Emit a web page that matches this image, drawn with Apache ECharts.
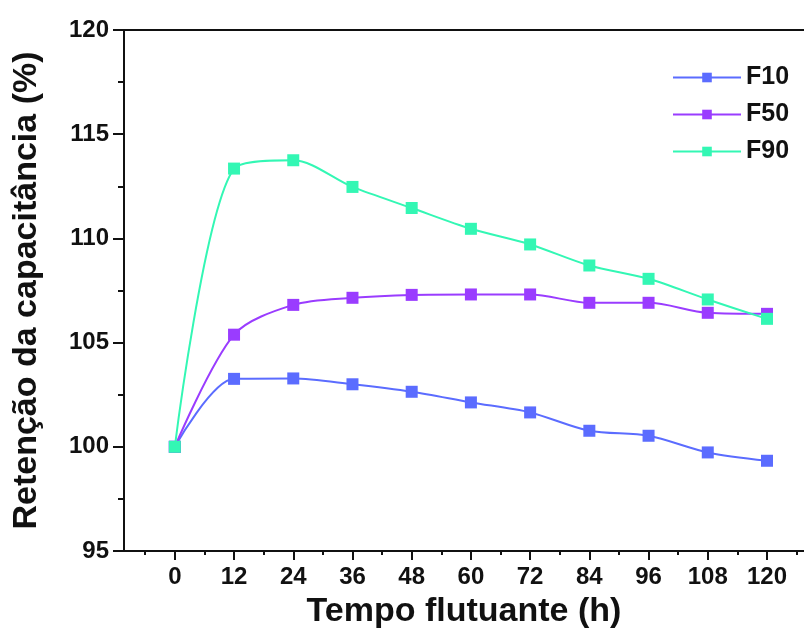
<!DOCTYPE html>
<html>
<head>
<meta charset="utf-8">
<script src="https://cdn.jsdelivr.net/npm/echarts@6/dist/echarts.min.js"></script>
<style>
html,body{margin:0;padding:0;background:#fff;}
#chart{width:804px;height:639px;}
</style>
</head>
<body>
<div id="chart"></div>
<script>
const hours = [0, 12, 24, 36, 48, 60, 72, 84, 96, 108, 120];
const f10 = [100, 103.26, 103.28, 103.0, 102.64, 102.13, 101.65, 100.77, 100.53, 99.73, 99.33];
const f50 = [100, 105.38, 106.81, 107.15, 107.29, 107.31, 107.31, 106.91, 106.91, 106.43, 106.38];
const f90 = [100, 113.35, 113.75, 112.47, 111.46, 110.46, 109.71, 108.70, 108.06, 107.07, 106.14];
const seriesNames = ['F10', 'F50', 'F90'];
const xTickLabels = [0, 12, 24, 36, 48, 60, 72, 84, 96, 108, 120];
const xMinorTicks = [-6, 6, 18, 30, 42, 54, 66, 78, 90, 102, 114, 126];
const yTicks = [95, 100, 105, 110, 115, 120];

const colors = ['#5b6cff', '#9a3cff', '#33f7b4'];
const FONT = 'Liberation Sans, Arial, sans-serif';
const X_MIN = -10.3, X_MAX = 127.5;

const chart = echarts.init(document.getElementById('chart'));
const pair = arr => hours.map((h, i) => [h, arr[i]]);
const allData = [f10, f50, f90];

chart.setOption({
  animation: false,
  grid: { left: 124, top: 30, width: 680, height: 521, show: false },
  legend: {
    orient: 'vertical', left: 667, top: 60, itemWidth: 68, itemHeight: 12, itemGap: 12,
    textStyle: { fontFamily: FONT, fontWeight: 'bold', fontSize: 25, color: '#111' },
    data: seriesNames
  },
  xAxis: [{
    type: 'value', min: X_MIN, max: X_MAX,
    axisLine: { show: true, onZero: false, lineStyle: { color: '#111', width: 2 } },
    axisTick: { show: true, inside: false, length: 9, customValues: xTickLabels, lineStyle: { color: '#111', width: 2 } },
    axisLabel: { customValues: xTickLabels, margin: 14, fontFamily: FONT, fontWeight: 'bold', fontSize: 24, color: '#111' },
    splitLine: { show: false },
    name: 'Tempo flutuante (h)', nameLocation: 'middle', nameGap: 44,
    nameTextStyle: { fontFamily: FONT, fontWeight: 'bold', fontSize: 34, color: '#111' }
  }, {
    type: 'value', min: X_MIN, max: X_MAX, position: 'bottom',
    axisLine: { show: false },
    axisTick: { show: true, length: 4, customValues: xMinorTicks, lineStyle: { color: '#111', width: 2 } },
    axisLabel: { show: false }, splitLine: { show: false }
  }, {
    type: 'value', min: X_MIN, max: X_MAX, position: 'top',
    axisLine: { show: true, onZero: false, lineStyle: { color: '#111', width: 2 } },
    axisTick: { show: false }, axisLabel: { show: false }, splitLine: { show: false }
  }],
  yAxis: {
    type: 'value', min: 95, max: 120, interval: 5,
    axisLine: { show: true, onZero: false, lineStyle: { color: '#111', width: 2 } },
    axisTick: { show: true, length: 11, lineStyle: { color: '#111', width: 2 } },
    minorTick: { show: true, splitNumber: 2, length: 6, lineStyle: { color: '#111', width: 2 } },
    axisLabel: { margin: 15, fontFamily: FONT, fontWeight: 'bold', fontSize: 24, color: '#111',
      formatter: v => (yTicks.indexOf(v) >= 0 ? String(v) : '') },
    splitLine: { show: false },
    name: 'Retenção da capacitância (%)', nameLocation: 'middle', nameGap: 80, nameRotate: 90,
    nameTextStyle: { fontFamily: FONT, fontWeight: 'bold', fontSize: 34, color: '#111' }
  },
  series: seriesNames.map((n, i) => ({
    name: n, type: 'line', xAxisIndex: 0, smooth: 0.3,
    data: pair(allData[i]),
    symbol: 'rect', symbolSize: 12,
    lineStyle: { color: colors[i], width: 2 },
    itemStyle: { color: colors[i] },
    z: 2 + i
  }))
});
</script>
</body>
</html>
